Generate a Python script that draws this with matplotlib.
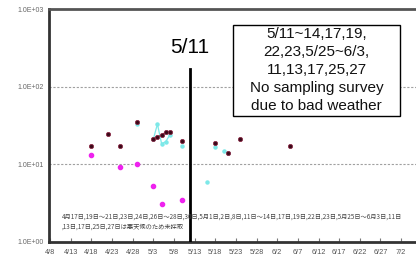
import numpy as np
import pandas as pd
import matplotlib
matplotlib.use("Agg")
import matplotlib.pyplot as plt
import matplotlib.dates as mdates
from matplotlib.patches import Rectangle

plt.rcParams['font.family'] = ['Liberation Sans', 'DejaVu Sans']

YEAR = 2011

# series values, dates as m/d
dark_dates = ['4/18', '4/22', '4/25', '4/29', '5/3', '5/4', '5/5', '5/6', '5/7',
              '5/10', '5/18', '5/21', '5/24', '6/5']
dark_vals = [17.2, 24.5, 17.2, 35.0, 21.2, 22.5, 23.8, 26.0, 26.0,
             20.0, 18.8, 13.9, 21.2, 17.2]

magenta_dates = ['4/18', '4/25', '4/29', '5/3', '5/5', '5/10']
magenta_vals = [13.2, 9.2, 10.0, 5.3, 3.1, 3.5]

cyan_dates = ['4/29', '5/3', '5/4', '5/5', '5/6', '5/7', '5/10', '5/16',
              '5/18', '5/20', '5/21']
cyan_vals = [33.0, 21.0, 33.0, 18.5, 19.5, 24.0, 17.2, 5.9,
             16.7, 14.8, 14.0]

tick_dates = ['4/8', '4/13', '4/18', '4/23', '4/28', '5/3', '5/8', '5/13', '5/18',
              '5/23', '5/28', '6/2', '6/7', '6/12', '6/17', '6/22', '6/27', '7/2']
y_ticks = [1, 10, 100, 1000]
y_labels = ['1.0E+00', '1.0E+01', '1.0E+02', '1.0E+03']

event_date = '5/11'
event_top = 170

box_text = "5/11~14,17,19,\n22,23,5/25~6/3,\n11,13,17,25,27\nNo sampling survey\ndue to bad weather"
jp_note = ("4月17日,19日～21日,23日,24日,26日～28日,30日,5月1日,2日,8日,11日～14日,17日,19日,22日,23日,5月25日～6月3日,11日\n"
           ",13日,17日,25日,27日は悪天候のため未採取")


def to_dt(md):
    return pd.to_datetime([f"{YEAR}/{d}" for d in md], format="%Y/%m/%d")


def gapped(md, vals):
    # break the line where sampling days are not consecutive
    s = pd.Series(vals, index=to_dt(md))
    full = pd.date_range(s.index.min(), s.index.max(), freq='D')
    return s.reindex(full)


W, H = 416, 266
fig = plt.figure(figsize=(W / 100, H / 100), dpi=100)
ax = fig.add_axes([49 / W, 24 / H, 1 - 49 / W, (242 - 9) / H])

c = gapped(cyan_dates, cyan_vals)
ax.plot(c.index, c.values, color='#7de8e8', lw=0.9, marker='o', ms=2.2,
        mec='#7de8e8', zorder=3)
m = gapped(magenta_dates, magenta_vals)
ax.plot(m.index, m.values, color='#ee22ee', lw=0.9, marker='o', ms=3.0,
        mec='#ee22ee', zorder=4)
d = gapped(dark_dates, dark_vals)
ax.plot(d.index, d.values, color='#7a2035', lw=0.9, marker='o', ms=3.0,
        mfc='#3a0818', mec='#8a2a45', mew=0.6, zorder=5)

ax.set_yscale('log')
ax.set_ylim(1, 1000)
ax.set_yticks(y_ticks)
ax.set_yticklabels(y_labels)
ax.minorticks_off()
x0 = pd.Timestamp(f"{YEAR}-04-08")
ax.set_xlim(x0 - pd.Timedelta(hours=6), x0 + pd.Timedelta(days=88.6))
ax.set_xticks(to_dt(tick_dates))
ax.set_xticklabels(tick_dates)

for yv in [10, 100]:
    ax.axhline(yv, color='#a0a0a0', lw=0.8, ls=(0, (2, 1.5)), zorder=1)

ev = to_dt([event_date])[0] + pd.Timedelta(hours=20)
ax.plot([ev, ev], [1, event_top], color='black', lw=2, zorder=6)
ax.text(ev, 320, event_date, ha='center', va='center', fontsize=15, color='black')

ax.tick_params(axis='y', length=0, labelsize=5, labelcolor='#666666', pad=4)
ax.tick_params(axis='x', direction='in', length=3, width=0.8, color='#777777',
               labelsize=5.3, labelcolor='#555555', pad=5)

for side in ['left', 'bottom']:
    ax.spines[side].set_linewidth(2)
    ax.spines[side].set_color('#333333')
ax.spines['top'].set_linewidth(2)
ax.spines['top'].set_color('#555555')
ax.spines['right'].set_visible(False)

# annotation box
fig.patches.append(Rectangle((233 / W, 1 - 116 / H), (400 - 233) / W, (116 - 25) / H,
                             transform=fig.transFigure, fc='white', ec='black',
                             lw=1, zorder=10))
fig.text(316.5 / W, 1 - 27 / H, box_text, ha='center', va='top', fontsize=11,
         linespacing=1.36, color='#111111', zorder=11)

fig.text(62 / W, 1 - 222 / H, jp_note, ha='left', va='center', fontsize=4.5,
         linespacing=1.3, color='#444444',
         family=['Noto Sans CJK JP', 'DejaVu Sans'])

fig.savefig('out.png', dpi=100)
